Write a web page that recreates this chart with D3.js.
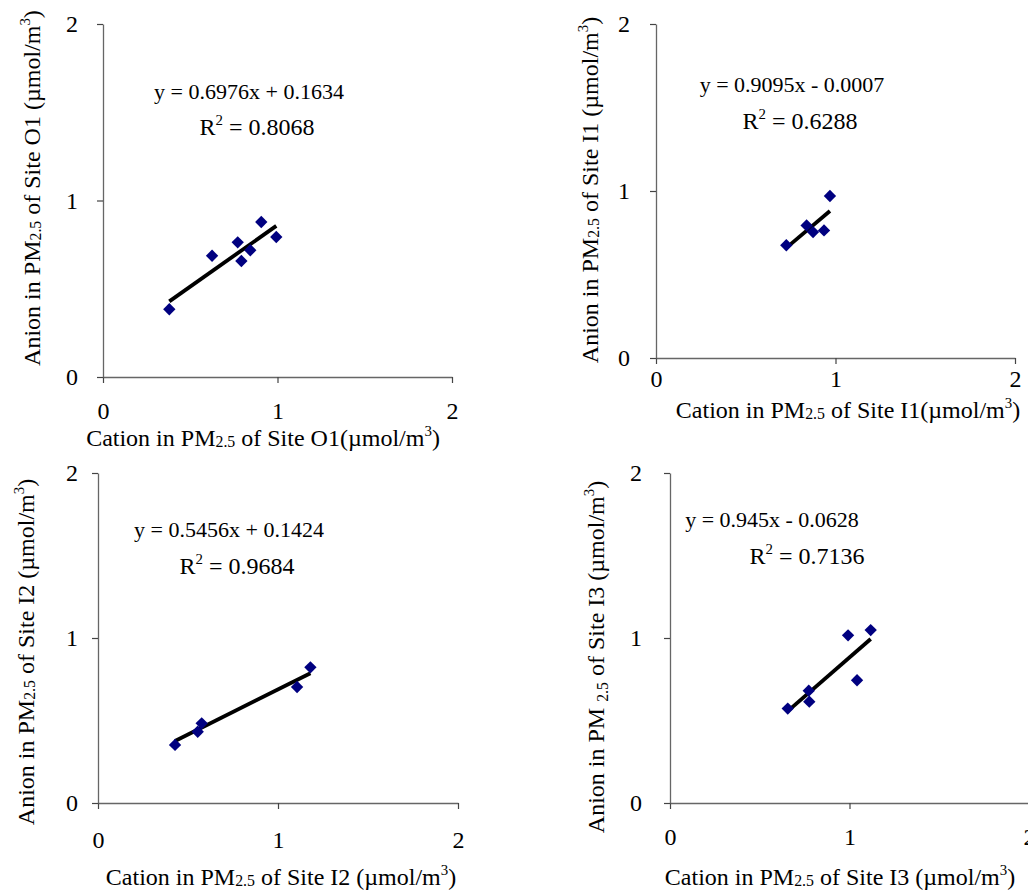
<!DOCTYPE html>
<html>
<head>
<meta charset="utf-8">
<script src="https://cdn.jsdelivr.net/npm/d3@7"></script>
<style>
  body { margin: 0; background: #fff; }
  text { font-family: "Liberation Serif", "Times New Roman", serif; fill: #000; }
</style>
</head>
<body>
<svg id="chart" width="1028" height="896"></svg>
<script>
// ---- data ----
const siteNames = ["O1", "I1", "I2", "I3"];

const o1Cation = [0.38, 0.625, 0.772, 0.793, 0.844, 0.907, 0.993];
const o1Anion  = [0.384, 0.687, 0.763, 0.657, 0.718, 0.878, 0.793];

const i1Cation = [0.726, 0.839, 0.875, 0.936, 0.969];
const i1Anion  = [0.675, 0.794, 0.754, 0.764, 0.970];

const i2Cation = [0.428, 0.554, 0.576, 1.106, 1.18];
const i2Anion  = [0.352, 0.432, 0.483, 0.703, 0.822];

const i3Cation = [0.656, 0.773, 0.776, 0.992, 1.042, 1.118];
const i3Anion  = [0.572, 0.681, 0.614, 1.016, 0.744, 1.048];

const fitSlope     = [0.6976, 0.9095, 0.5456, 0.945];
const fitIntercept = [0.1634, -0.0007, 0.1424, -0.0628];
const eqLabels = ["y = 0.6976x + 0.1634", "y = 0.9095x - 0.0007", "y = 0.5456x + 0.1424", "y = 0.945x - 0.0628"];
const r2Labels = ["0.8068", "0.6288", "0.9684", "0.7136"];

const tickValues = [0, 1, 2];

const cations = [o1Cation, i1Cation, i2Cation, i3Cation];
const anions  = [o1Anion, i1Anion, i2Anion, i3Anion];

// ---- layout (pixel positions of each small plot) ----
const panels = [
  { xr: [103, 452], yr: [377, 24], xpad: 19, ypad: 19, ytx: 40, yty: 188, xtx: 263, xty: 446, eq: [249, 99], r2: [257, 135], xsep: "", ysubLow: false },
  { xr: [656, 1015], yr: [358, 24], xpad: 6, ypad: 20, ytx: 598, yty: 190, xtx: 848, xty: 418, eq: [792, 92], r2: [800, 129], xsep: "", ysubLow: false },
  { xr: [98, 458], yr: [803, 473], xpad: 22, ypad: 14, ytx: 34, yty: 652, xtx: 281, xty: 885, eq: [229, 537], r2: [237, 574], xsep: " ", ysubLow: false },
  { xr: [670, 1029], yr: [803, 473], xpad: 19, ypad: 22, ytx: 604, yty: 657, xtx: 840, xty: 885, eq: [772, 527], r2: [807, 564], xsep: " ", ysubLow: true }
];

const svg = d3.select("#chart");

// text with sub / superscript pieces
function richText(g, parts, size) {
  const t = g.append("text").attr("text-anchor", "middle").style("font-size", size + "px");
  let shift = 0;
  parts.forEach(function(p) {
    const s = t.append("tspan").text(p[0]);
    let want = 0;
    if (p[1] === "sup") { s.style("font-size", (size * 0.62) + "px"); want = -size * 0.42; }
    if (p[1] === "sub") { s.style("font-size", (size * 0.66) + "px"); want = p[2] || 0; }
    if (want !== shift) { s.attr("dy", want - shift); shift = want; }
  });
  return t;
}

panels.forEach(function(p, i) {
  const x = d3.scaleLinear().domain([0, 2]).range(p.xr);
  const y = d3.scaleLinear().domain([0, 2]).range(p.yr);
  const g = svg.append("g");

  const xAxis = g.append("g")
    .attr("transform", "translate(0," + y(0) + ")")
    .call(d3.axisBottom(x).tickValues(tickValues).tickSize(6).tickSizeOuter(0).tickPadding(p.xpad).tickFormat(d3.format("d")));
  const yAxis = g.append("g")
    .attr("transform", "translate(" + x(0) + ",0)")
    .call(d3.axisLeft(y).tickValues(tickValues).tickSize(6).tickSizeOuter(0).tickPadding(p.ypad).tickFormat(d3.format("d")));

  [xAxis, yAxis].forEach(function(a) {
    a.select(".domain").attr("stroke", "#666").attr("stroke-width", 1.3);
    a.selectAll(".tick line").attr("stroke", "#444").attr("stroke-width", 1.2);
    a.selectAll(".tick text").attr("font-family", null).style("font-size", "24px").attr("fill", "#000");
  });

  // regression line over the data range
  const xs = cations[i];
  const xmin = d3.min(xs), xmax = d3.max(xs);
  g.append("line")
    .attr("x1", x(xmin)).attr("y1", y(fitSlope[i] * xmin + fitIntercept[i]))
    .attr("x2", x(xmax)).attr("y2", y(fitSlope[i] * xmax + fitIntercept[i]))
    .attr("stroke", "#000").attr("stroke-width", 3.8);

  // points
  const pts = xs.map(function(v, k) { return [v, anions[i][k]]; });
  g.selectAll("path.pt").data(pts).enter().append("path")
    .attr("class", "pt")
    .attr("d", d3.symbol(d3.symbolSquare, 76))
    .attr("transform", function(d) { return "translate(" + x(d[0]) + "," + y(d[1]) + ") rotate(45)"; })
    .attr("fill", "#000080");

  // equation and R^2
  richText(g, [[eqLabels[i]]], 22).attr("x", p.eq[0]).attr("y", p.eq[1]);
  const r2 = richText(g, [["R"], ["2", "sup"], [" = " + r2Labels[i]]], 24);
  r2.attr("x", p.r2[0]).attr("y", p.r2[1]);

  // axis titles
  richText(g, [["Cation in PM"], ["2.5", "sub", 1], [" of Site " + siteNames[i] + p.xsep + "(\u00b5mol/m"], ["3", "sup"], [")"]], 24)
    .attr("x", p.xtx).attr("y", p.xty);

  const yt = richText(g, [["Anion in PM" + (p.ysubLow ? " " : "")], ["2.5", "sub", p.ysubLow ? 4 : 1], [" of Site " + siteNames[i] + " (\u00b5mol/m"], ["3", "sup"], [")"]], 24);
  yt.attr("transform", "translate(" + p.ytx + "," + p.yty + ") rotate(-90)");
});
</script>
</body>
</html>
